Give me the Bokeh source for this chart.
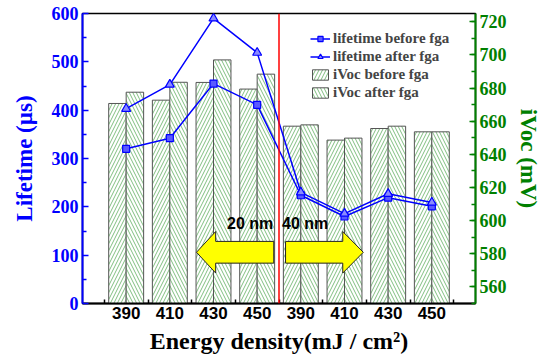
from bokeh.plotting import figure
from bokeh.models import (Range1d, LinearAxis, FixedTicker, Span, Legend,
                          LegendItem, Label, ColumnDataSource)
from bokeh.embed import file_html
from bokeh.resources import INLINE
import numpy as np

# ---- data ----
energy_labels = ["390", "410", "430", "450", "390", "410", "430", "450"]
lifetime_before = [320, 342, 455, 411, 224, 180, 219, 201]
lifetime_after = [403, 453, 590, 519, 230, 186, 227, 209]
ivoc_before = [670.7, 672.7, 683.4, 679.4, 657.0, 648.6, 655.6, 653.6]
ivoc_after = [677.5, 683.5, 697.0, 688.4, 657.8, 649.8, 657.0, 653.6]
groups = ["20 nm", "40 nm"]

x = np.arange(1, len(energy_labels) + 1)
BLUE = "#0000ff"
GREEN = "#008000"
SERIF = "Liberation Serif"
SANS = "Liberation Sans"
bw = 0.4

p = figure(width=545, height=360, frame_width=393, frame_height=290,
           output_backend="svg", toolbar_location=None,
           x_range=Range1d(0, 9), y_range=Range1d(0, 600),
           min_border_left=82, min_border_top=13, min_border_right=70,
           min_border_bottom=57)
p.xgrid.visible = False
p.ygrid.visible = False
p.outline_line_color = "black"
p.outline_line_width = 1.5
p.background_fill_color = "white"

p.extra_y_ranges = {"ivoc": Range1d(550, 725)}

src = ColumnDataSource(dict(x=x, xb=x - bw / 2, xa=x + bw / 2,
                            lb=lifetime_before, la=lifetime_after,
                            vb=ivoc_before, va=ivoc_after))

hb = p.vbar(x="xb", top="vb", bottom=550, width=bw, source=src,
            y_range_name="ivoc", fill_color="white", line_color="#555555",
            line_width=1, hatch_pattern="/", hatch_color="#4aa24a",
            hatch_alpha=0.7, hatch_scale=7, hatch_weight=1)
ha = p.vbar(x="xa", top="va", bottom=550, width=bw, source=src,
            y_range_name="ivoc", fill_color="white", line_color="#555555",
            line_width=1, hatch_pattern="\\", hatch_color="#4aa24a",
            hatch_alpha=0.7, hatch_scale=7, hatch_weight=1)

# red separator
p.add_layout(Span(location=4.5, dimension="height", line_color="red",
                  line_width=1.5))

# yellow arrows (annotation shapes)
def arrow(x_tail, x_tip, yc, shaft_h, head_h, head_len):
    d = 1 if x_tip > x_tail else -1
    xb = x_tip - d * head_len
    xs = [x_tail, xb, xb, x_tip, xb, xb, x_tail]
    ys = [yc - shaft_h / 2, yc - shaft_h / 2, yc - head_h / 2, yc,
          yc + head_h / 2, yc + shaft_h / 2, yc + shaft_h / 2]
    return xs, ys

a1 = arrow(4.38, 2.61, 106, 45, 86, 0.44)
a2 = arrow(4.65, 6.43, 106, 45, 86, 0.47)
p.patches(xs=[a1[0], a2[0]], ys=[a1[1], a2[1]], fill_color="yellow",
          line_color="#222222", line_width=1)
p.add_layout(Label(x=3.31, y=147, text=groups[0], text_font=SANS,
                   text_font_style="bold", text_font_size="16px",
                   text_color="black"))
p.add_layout(Label(x=4.57, y=147, text=groups[1], text_font=SANS,
                   text_font_style="bold", text_font_size="16px",
                   text_color="black"))

# lifetime lines
l1 = p.line(x="x", y="lb", source=src, line_color=BLUE, line_width=1.5)
s1 = p.scatter(x="x", y="lb", source=src, marker="square", size=7,
               line_color=BLUE, fill_color="#5a5aff", line_width=1.2)
l2 = p.line(x="x", y="la", source=src, line_color=BLUE, line_width=1.5)
s2 = p.scatter(x="x", y="la", source=src, marker="triangle", size=9,
               line_color=BLUE, fill_color="#8a8aff", line_width=1.2)

# left axis
ya = p.yaxis[0]
ya.ticker = FixedTicker(ticks=list(range(0, 601, 100)),
                        minor_ticks=list(range(50, 600, 100)))
ya.axis_label = "Lifetime (µs)"
ya.axis_label_text_font = SERIF
ya.axis_label_text_font_style = "bold"
ya.axis_label_text_font_size = "23px"
ya.axis_label_text_color = BLUE
ya.axis_label_standoff = 12
ya.major_label_text_font = SERIF
ya.major_label_text_font_style = "bold"
ya.major_label_text_font_size = "18px"
ya.major_label_text_color = BLUE
ya.major_label_standoff = 4
ya.axis_line_color = BLUE
ya.axis_line_width = 2
ya.major_tick_line_color = BLUE
ya.minor_tick_line_color = BLUE
ya.major_tick_line_width = 1.5
ya.minor_tick_line_width = 1.5
ya.major_tick_in = 6
ya.major_tick_out = 0
ya.minor_tick_in = 4
ya.minor_tick_out = 0

# right axis
ra = LinearAxis(y_range_name="ivoc")
ra.ticker = FixedTicker(ticks=list(range(560, 721, 20)),
                        minor_ticks=list(range(550, 726, 10)))
ra.axis_label = "iVoc (mV)"
ra.axis_label_text_font = SERIF
ra.axis_label_text_font_style = "bold"
ra.axis_label_text_font_size = "23px"
ra.axis_label_text_color = GREEN
ra.axis_label_standoff = 6
ra.major_label_text_font = SERIF
ra.major_label_text_font_style = "bold"
ra.major_label_text_font_size = "18px"
ra.major_label_text_color = GREEN
ra.major_label_standoff = 4
ra.axis_line_color = GREEN
ra.axis_line_width = 2
ra.major_tick_line_color = GREEN
ra.minor_tick_line_color = GREEN
ra.major_tick_line_width = 1.5
ra.minor_tick_line_width = 1.5
ra.major_tick_in = 6
ra.major_tick_out = 0
ra.minor_tick_in = 4
ra.minor_tick_out = 0
p.add_layout(ra, "right")

# bottom axis
xa = p.xaxis[0]
xa.ticker = FixedTicker(ticks=[int(v) for v in x],
                        minor_ticks=[v + 0.5 for v in range(0, 9)])
xa.major_label_overrides = {int(v): lab for v, lab in zip(x, energy_labels)}
xa.axis_label = "Energy density(mJ / cm²)"
xa.axis_label_text_font = SERIF
xa.axis_label_text_font_style = "bold"
xa.axis_label_text_font_size = "24px"
xa.axis_label_text_color = "black"
xa.axis_label_standoff = 6
xa.major_label_text_font = SANS
xa.major_label_text_font_style = "bold"
xa.major_label_text_font_size = "17px"
xa.major_label_text_color = "black"
xa.major_label_standoff = 3
xa.axis_line_color = "black"
xa.axis_line_width = 2
xa.major_tick_in = 0
xa.major_tick_out = 0
xa.minor_tick_in = 4
xa.minor_tick_out = 0
xa.minor_tick_line_color = "black"
xa.minor_tick_line_width = 1.5

legend = Legend(items=[
    LegendItem(label="lifetime before fga", renderers=[l1, s1]),
    LegendItem(label="lifetime after fga", renderers=[l2, s2]),
    LegendItem(label="iVoc before fga", renderers=[hb]),
    LegendItem(label="iVoc after fga", renderers=[ha]),
], location=(228, 202))
legend.background_fill_alpha = 0
legend.border_line_alpha = 0
legend.label_text_font = SERIF
legend.label_text_font_style = "bold"
legend.label_text_font_size = "15px"
legend.glyph_width = 20
legend.glyph_height = 13
legend.label_height = 18
legend.spacing = 0
legend.padding = 0
legend.margin = 0
legend.label_standoff = 3
p.add_layout(legend)

open("out.html", "w").write(file_html(p, INLINE))
